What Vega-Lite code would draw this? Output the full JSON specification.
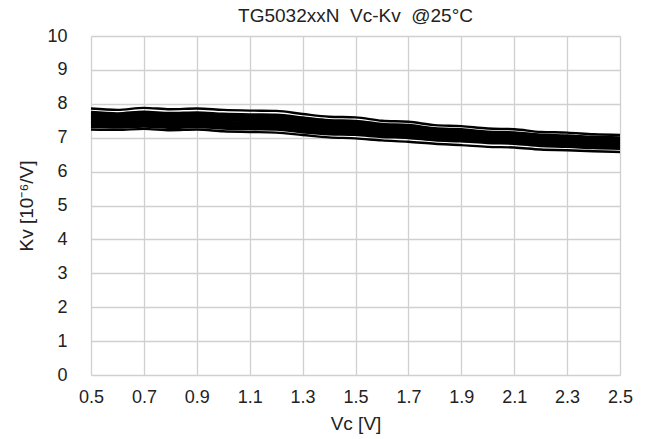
{
  "$schema": "https://vega.github.io/schema/vega-lite/v6.json",
  "autosize": "none",
  "width": 529,
  "height": 339,
  "padding": {"left": 91, "top": 36, "right": 31, "bottom": 64},
  "background": "white",
  "title": {"text": "TG5032xxN\u00a0 Vc-Kv\u00a0 @25°C", "font": "Liberation Sans", "fontSize": 19, "fontWeight": "normal", "color": "#222", "anchor": "middle", "offset": 1},
  "config": {
    "view": {"stroke": null},
    "axis": {"labelFont": "Liberation Sans", "titleFont": "Liberation Sans", "labelFontSize": 18, "titleFontSize": 19, "titleFontWeight": "normal", "labelColor": "#222", "titleColor": "#222", "gridColor": "#d0d0d0", "gridWidth": 1.3, "domain": false, "ticks": false, "labelFlush": false}
  },
  "data": {"values": [
    {"s":"A","x":0.5,"y":7.86},{"s":"A","x":0.6,"y":7.82},{"s":"A","x":0.7,"y":7.88},{"s":"A","x":0.8,"y":7.84},{"s":"A","x":0.9,"y":7.86},{"s":"A","x":1.0,"y":7.82},{"s":"A","x":1.1,"y":7.80},{"s":"A","x":1.2,"y":7.79},{"s":"A","x":1.3,"y":7.70},{"s":"A","x":1.4,"y":7.62},{"s":"A","x":1.5,"y":7.60},{"s":"A","x":1.6,"y":7.50},{"s":"A","x":1.7,"y":7.47},{"s":"A","x":1.8,"y":7.37},{"s":"A","x":1.9,"y":7.34},{"s":"A","x":2.0,"y":7.27},{"s":"A","x":2.1,"y":7.25},{"s":"A","x":2.2,"y":7.17},{"s":"A","x":2.3,"y":7.15},{"s":"A","x":2.4,"y":7.10},{"s":"A","x":2.5,"y":7.08},
    {"s":"B","x":0.5,"y":7.74},{"s":"B","x":0.6,"y":7.70},{"s":"B","x":0.7,"y":7.75},{"s":"B","x":0.8,"y":7.71},{"s":"B","x":0.9,"y":7.73},{"s":"B","x":1.0,"y":7.69},{"s":"B","x":1.1,"y":7.67},{"s":"B","x":1.2,"y":7.66},{"s":"B","x":1.3,"y":7.58},{"s":"B","x":1.4,"y":7.50},{"s":"B","x":1.5,"y":7.48},{"s":"B","x":1.6,"y":7.39},{"s":"B","x":1.7,"y":7.36},{"s":"B","x":1.8,"y":7.26},{"s":"B","x":1.9,"y":7.23},{"s":"B","x":2.0,"y":7.16},{"s":"B","x":2.1,"y":7.14},{"s":"B","x":2.2,"y":7.07},{"s":"B","x":2.3,"y":7.05},{"s":"B","x":2.4,"y":7.01},{"s":"B","x":2.5,"y":6.99},
    {"s":"C","x":0.5,"y":7.66},{"s":"C","x":0.6,"y":7.62},{"s":"C","x":0.7,"y":7.67},{"s":"C","x":0.8,"y":7.63},{"s":"C","x":0.9,"y":7.65},{"s":"C","x":1.0,"y":7.61},{"s":"C","x":1.1,"y":7.59},{"s":"C","x":1.2,"y":7.58},{"s":"C","x":1.3,"y":7.50},{"s":"C","x":1.4,"y":7.43},{"s":"C","x":1.5,"y":7.41},{"s":"C","x":1.6,"y":7.32},{"s":"C","x":1.7,"y":7.29},{"s":"C","x":1.8,"y":7.20},{"s":"C","x":1.9,"y":7.17},{"s":"C","x":2.0,"y":7.10},{"s":"C","x":2.1,"y":7.08},{"s":"C","x":2.2,"y":7.01},{"s":"C","x":2.3,"y":6.99},{"s":"C","x":2.4,"y":6.95},{"s":"C","x":2.5,"y":6.93},
    {"s":"D","x":0.5,"y":7.58},{"s":"D","x":0.6,"y":7.55},{"s":"D","x":0.7,"y":7.59},{"s":"D","x":0.8,"y":7.55},{"s":"D","x":0.9,"y":7.57},{"s":"D","x":1.0,"y":7.53},{"s":"D","x":1.1,"y":7.51},{"s":"D","x":1.2,"y":7.50},{"s":"D","x":1.3,"y":7.42},{"s":"D","x":1.4,"y":7.36},{"s":"D","x":1.5,"y":7.34},{"s":"D","x":1.6,"y":7.25},{"s":"D","x":1.7,"y":7.22},{"s":"D","x":1.8,"y":7.14},{"s":"D","x":1.9,"y":7.11},{"s":"D","x":2.0,"y":7.04},{"s":"D","x":2.1,"y":7.02},{"s":"D","x":2.2,"y":6.95},{"s":"D","x":2.3,"y":6.93},{"s":"D","x":2.4,"y":6.89},{"s":"D","x":2.5,"y":6.87},
    {"s":"E","x":0.5,"y":7.50},{"s":"E","x":0.6,"y":7.47},{"s":"E","x":0.7,"y":7.51},{"s":"E","x":0.8,"y":7.47},{"s":"E","x":0.9,"y":7.49},{"s":"E","x":1.0,"y":7.45},{"s":"E","x":1.1,"y":7.43},{"s":"E","x":1.2,"y":7.42},{"s":"E","x":1.3,"y":7.34},{"s":"E","x":1.4,"y":7.28},{"s":"E","x":1.5,"y":7.26},{"s":"E","x":1.6,"y":7.18},{"s":"E","x":1.7,"y":7.15},{"s":"E","x":1.8,"y":7.07},{"s":"E","x":1.9,"y":7.04},{"s":"E","x":2.0,"y":6.98},{"s":"E","x":2.1,"y":6.96},{"s":"E","x":2.2,"y":6.89},{"s":"E","x":2.3,"y":6.87},{"s":"E","x":2.4,"y":6.83},{"s":"E","x":2.5,"y":6.81},
    {"s":"F","x":0.5,"y":7.42},{"s":"F","x":0.6,"y":7.40},{"s":"F","x":0.7,"y":7.43},{"s":"F","x":0.8,"y":7.39},{"s":"F","x":0.9,"y":7.41},{"s":"F","x":1.0,"y":7.37},{"s":"F","x":1.1,"y":7.35},{"s":"F","x":1.2,"y":7.34},{"s":"F","x":1.3,"y":7.26},{"s":"F","x":1.4,"y":7.20},{"s":"F","x":1.5,"y":7.18},{"s":"F","x":1.6,"y":7.11},{"s":"F","x":1.7,"y":7.08},{"s":"F","x":1.8,"y":7.00},{"s":"F","x":1.9,"y":6.97},{"s":"F","x":2.0,"y":6.92},{"s":"F","x":2.1,"y":6.90},{"s":"F","x":2.2,"y":6.83},{"s":"F","x":2.3,"y":6.81},{"s":"F","x":2.4,"y":6.77},{"s":"F","x":2.5,"y":6.75},
    {"s":"G","x":0.5,"y":7.34},{"s":"G","x":0.6,"y":7.32},{"s":"G","x":0.7,"y":7.35},{"s":"G","x":0.8,"y":7.31},{"s":"G","x":0.9,"y":7.33},{"s":"G","x":1.0,"y":7.29},{"s":"G","x":1.1,"y":7.27},{"s":"G","x":1.2,"y":7.26},{"s":"G","x":1.3,"y":7.18},{"s":"G","x":1.4,"y":7.12},{"s":"G","x":1.5,"y":7.10},{"s":"G","x":1.6,"y":7.04},{"s":"G","x":1.7,"y":7.01},{"s":"G","x":1.8,"y":6.94},{"s":"G","x":1.9,"y":6.91},{"s":"G","x":2.0,"y":6.86},{"s":"G","x":2.1,"y":6.84},{"s":"G","x":2.2,"y":6.77},{"s":"G","x":2.3,"y":6.75},{"s":"G","x":2.4,"y":6.71},{"s":"G","x":2.5,"y":6.69},
    {"s":"H","x":0.5,"y":7.24},{"s":"H","x":0.6,"y":7.23},{"s":"H","x":0.7,"y":7.26},{"s":"H","x":0.8,"y":7.22},{"s":"H","x":0.9,"y":7.24},{"s":"H","x":1.0,"y":7.19},{"s":"H","x":1.1,"y":7.17},{"s":"H","x":1.2,"y":7.15},{"s":"H","x":1.3,"y":7.08},{"s":"H","x":1.4,"y":7.01},{"s":"H","x":1.5,"y":6.98},{"s":"H","x":1.6,"y":6.92},{"s":"H","x":1.7,"y":6.88},{"s":"H","x":1.8,"y":6.82},{"s":"H","x":1.9,"y":6.78},{"s":"H","x":2.0,"y":6.73},{"s":"H","x":2.1,"y":6.71},{"s":"H","x":2.2,"y":6.65},{"s":"H","x":2.3,"y":6.63},{"s":"H","x":2.4,"y":6.60},{"s":"H","x":2.5,"y":6.58}
  ]},
  "encoding": {
    "x": {"field": "x", "type": "quantitative", "scale": {"domain": [0.5, 2.5], "nice": false, "zero": false},
          "axis": {"values": [0.5,0.7,0.9,1.1,1.3,1.5,1.7,1.9,2.1,2.3,2.5], "format": ".1f", "title": "Vc [V]", "labelPadding": 13, "titlePadding": 8}},
    "y": {"field": "y", "type": "quantitative", "scale": {"domain": [0, 10], "nice": false},
          "axis": {"values": [0,1,2,3,4,5,6,7,8,9,10], "title": "Kv [10⁻⁶/V]", "labelPadding": 24, "titlePadding": 10}},
    "detail": {"field": "s", "type": "nominal"}
  },
  "layer": [
    {"transform": [{"filter": "datum.s !== 'A' && datum.s !== 'H'"}], "mark": {"type": "line", "color": "black", "strokeWidth": 3.6, "interpolate": "monotone"}},
    {"transform": [{"filter": "datum.s === 'A' || datum.s === 'H'"}], "mark": {"type": "line", "color": "black", "strokeWidth": 2.4, "interpolate": "monotone"}}
  ]
}
